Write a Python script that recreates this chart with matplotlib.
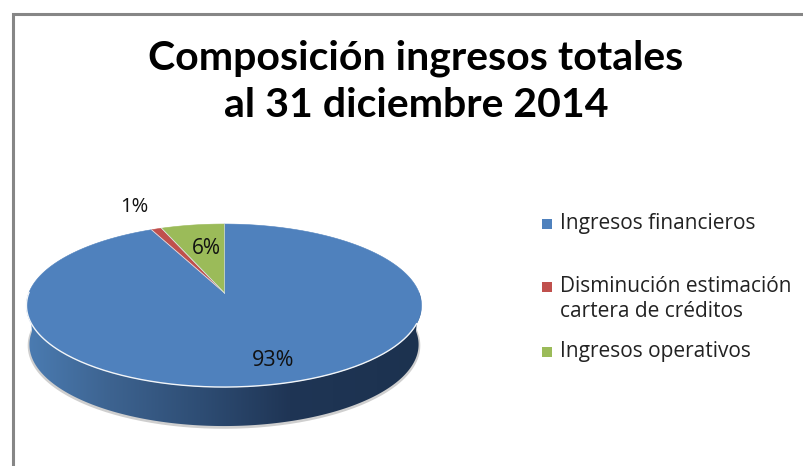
# Composition of total income, perspective pie
import numpy as np
import matplotlib
matplotlib.use('Agg')
import matplotlib.pyplot as plt
from matplotlib.patches import Polygon

title = 'Composición ingresos totales\nal 31 diciembre 2014'
categories = ['Ingresos financieros', 'Disminución estimación\ncartera de créditos', 'Ingresos operativos']
values = [93, 1, 6]
labels = ['93%', '1%', '6%']
colors = ['#4f81bd', '#c0504d', '#9bbb59']

plt.rcParams['font.family'] = ['Open Sans', 'DejaVu Sans']

# pie geometry in image pixels
cx, cy = 224, 305.5
a, b, c, k = 195.0, 81.5, 13.0, 0.16
depth = 39


# tilted circle -> screen, so the centre sits above the middle of the ellipse
def project(r, theta):
    u = r * np.sin(theta)
    v = r * np.cos(theta)
    d = 1 + k * v
    return cx + a * u / d, cy - (b * v + c) / d


fig = plt.figure(figsize=(8.04, 4.66), dpi=100)
ax = fig.add_axes([0, 0, 1, 1])
ax.set_xlim(0, 804)
ax.set_ylim(466, 0)
ax.axis('off')

# chart frame, open to the right and bottom like the crop
ax.plot([13, 13, 804], [466, 14, 14], color='#868686', lw=2.2, solid_joinstyle='miter')

# side wall
t = np.linspace(np.pi / 2, 3 * np.pi / 2, 200)
rim_x, rim_y = project(1, t)
wall_bottom_x = cx + (rim_x - cx) * 0.985
wall_bottom_y = rim_y + depth
wall = np.column_stack([np.r_[rim_x, wall_bottom_x[::-1]], np.r_[rim_y, wall_bottom_y[::-1]]])
ax.plot(wall_bottom_x, wall_bottom_y + 1, color='#cfcfcf', lw=2.5, zorder=1)

stops_x = [26, 110, 200, 290, 421]
stops_r = [0x4b, 0x3d, 0x2e, 0x1f, 0x1c]
stops_g = [0x7c, 0x63, 0x4d, 0x35, 0x32]
stops_b = [0xb2, 0x90, 0x74, 0x55, 0x4f]
xs = np.arange(26, 422)
grad = np.stack([np.interp(xs, stops_x, s) for s in (stops_r, stops_g, stops_b)], axis=1)[None, :, :] / 255
im = ax.imshow(grad, extent=[26, 421, 430, 290], aspect='auto', zorder=2)
im.set_clip_path(Polygon(wall, closed=True, transform=ax.transData))
ax.set_xlim(0, 804)
ax.set_ylim(466, 0)

# top face, clockwise from twelve o'clock
start = 0.0
total = sum(values)
for val, col in zip(values, colors):
    end = start + val / total * 2 * np.pi
    th = np.linspace(start, end, 200)
    x, y = project(1, th)
    x0, y0 = project(0, 0.0)
    ax.fill(np.r_[x0, x], np.r_[y0, y], facecolor=col, edgecolor=col, lw=0.4, zorder=3)
    ax.plot([x0, x[0]], [y0, y[0]], color='#dfe6ee', lw=0.6, zorder=3)
    start = end

# white highlight on the front rim
front = t > np.pi * 0.62
ax.plot(rim_x[front], rim_y[front], color='#f2f5f8', lw=1.0, zorder=4)

# data labels
ax.text(273, 361, labels[0], ha='center', va='center', fontsize=15.5, color='#111111', zorder=5)
ax.text(134, 207, labels[1], ha='center', va='center', fontsize=14.5, color='#111111', zorder=5)
ax.text(206, 249, labels[2], ha='center', va='center', fontsize=15, color='#111111', zorder=5)

# title
ax.text(416, 82, title, ha='center', va='center', fontsize=29.5, fontweight='bold',
        family=['Lato', 'DejaVu Sans'], color='black', linespacing=1.32)

# legend
legend_y = [224, 287, 352]
text_y = [223, 299, 351]
for name, col, ly, ty in zip(categories, colors, legend_y, text_y):
    ax.scatter([547], [ly], marker='s', s=50, color=col, linewidths=0, zorder=5)
    ax.text(560, ty, name, ha='left', va='center', fontsize=15, color='#222222', linespacing=1.2)

fig.savefig('out.png', dpi=100, facecolor='white')
